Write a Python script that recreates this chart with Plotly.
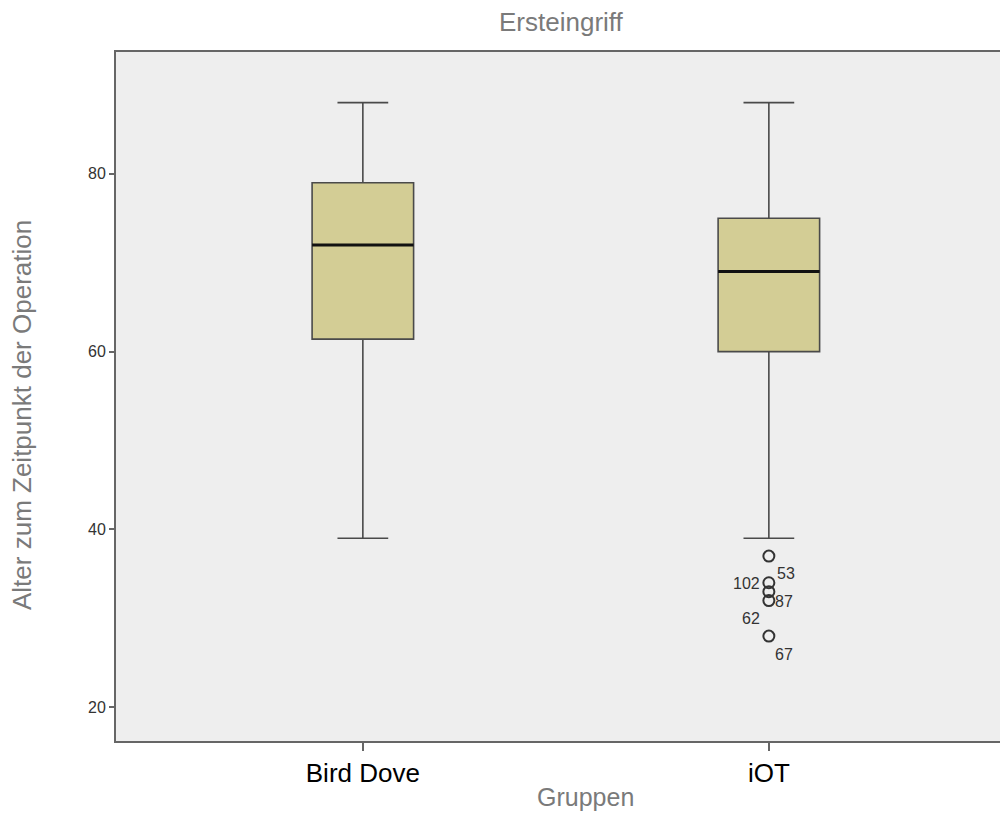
import plotly.graph_objects as go

groups = ["Bird Dove", "iOT"]
positions = [0, 1]
lower_whisker = [39, 39]
q1 = [61.4, 60]
median = [72, 69]
q3 = [79, 75]
upper_whisker = [88, 88]

outlier_values = [37, 34, 33, 32, 28]
outlier_ids = ["53", "102", "62", "87", "67"]
label_xshift = [17, -22, -18, 15, 15]
label_yshift = [-17, -1, -27, -1, -18]

box_width = 0.25
fill = "#D3CD95"
edge = "#4a4a4a"
FONT = "Liberation Sans, Arial, sans-serif"

# page body has an 8px margin: figure drawn at (8, 8)
W, H = 1000, 806
ML, MR, MT, MB = 108, 0, 44, 73
PW, PH = W - ML - MR, H - MT - MB


def px2paper(px, py):
    return (px - 8 - ML) / PW, (H - MB - (py - 8)) / PH


fig = go.Figure()
fig.add_trace(go.Box(
    x=positions, q1=q1, median=median, q3=q3,
    lowerfence=lower_whisker, upperfence=upper_whisker,
    width=box_width, whiskerwidth=0.5,
    fillcolor=fill, line=dict(color=edge, width=1.6),
    boxpoints=False, showlegend=False, hoverinfo="skip"))

for p, m in zip(positions, median):
    fig.add_trace(go.Scatter(
        x=[p - box_width / 2, p + box_width / 2], y=[m, m], mode="lines",
        line=dict(color="#111111", width=3), showlegend=False, hoverinfo="skip"))

fig.add_trace(go.Scatter(
    x=[positions[1]] * len(outlier_values), y=outlier_values, mode="markers",
    marker=dict(symbol="circle-open", size=11, line=dict(color="#333333", width=2), color="#333333"),
    showlegend=False, hoverinfo="skip"))

for v, lab, xs, ys in zip(outlier_values, outlier_ids, label_xshift, label_yshift):
    fig.add_annotation(x=positions[1], y=v, text=lab, showarrow=False,
                       xshift=xs, yshift=ys,
                       font=dict(family=FONT, size=16, color="#333333"))

tx, ty = px2paper(561, 22)
fig.add_annotation(xref="paper", yref="paper", x=tx, y=ty, text="Ersteingriff", showarrow=False,
                   xanchor="center", yanchor="middle", font=dict(family=FONT, size=26, color="#7a7a7a"))
gx, gy = px2paper(585, 797)
fig.add_annotation(xref="paper", yref="paper", x=gx, y=gy, text="Gruppen", showarrow=False,
                   xanchor="center", yanchor="middle", font=dict(family=FONT, size=25, color="#7a7a7a"))
ax_, ay_ = px2paper(22, 415)
fig.add_annotation(xref="paper", yref="paper", x=ax_, y=ay_, text="Alter zum Zeitpunkt der Operation",
                   showarrow=False, textangle=-90, xanchor="center", yanchor="middle",
                   font=dict(family=FONT, size=26, color="#7a7a7a"))

fig.update_layout(
    width=W, height=H,
    margin=dict(l=ML, r=MR, t=MT, b=MB),
    paper_bgcolor="white", plot_bgcolor="#EEEEEE",
    font=dict(family=FONT, color="#333333"),
    xaxis=dict(range=[-0.608, 1.589], tickvals=positions, ticktext=groups,
               showgrid=False, zeroline=False, showline=True, linecolor="#666666", linewidth=2,
               mirror=True, ticks="outside", ticklen=8, tickcolor="#666666", tickwidth=2,
               tickfont=dict(size=26, color="#000000")),
    yaxis=dict(range=[16.2, 93.7], tickvals=[20, 40, 60, 80],
               showgrid=False, zeroline=False, showline=True, linecolor="#666666", linewidth=2,
               ticks="outside", ticklen=5, tickcolor="#666666", tickwidth=2,
               tickfont=dict(size=16, color="#333333")),
)

fig.write_html("out.html", post_script="document.body.style.overflow='hidden';")
